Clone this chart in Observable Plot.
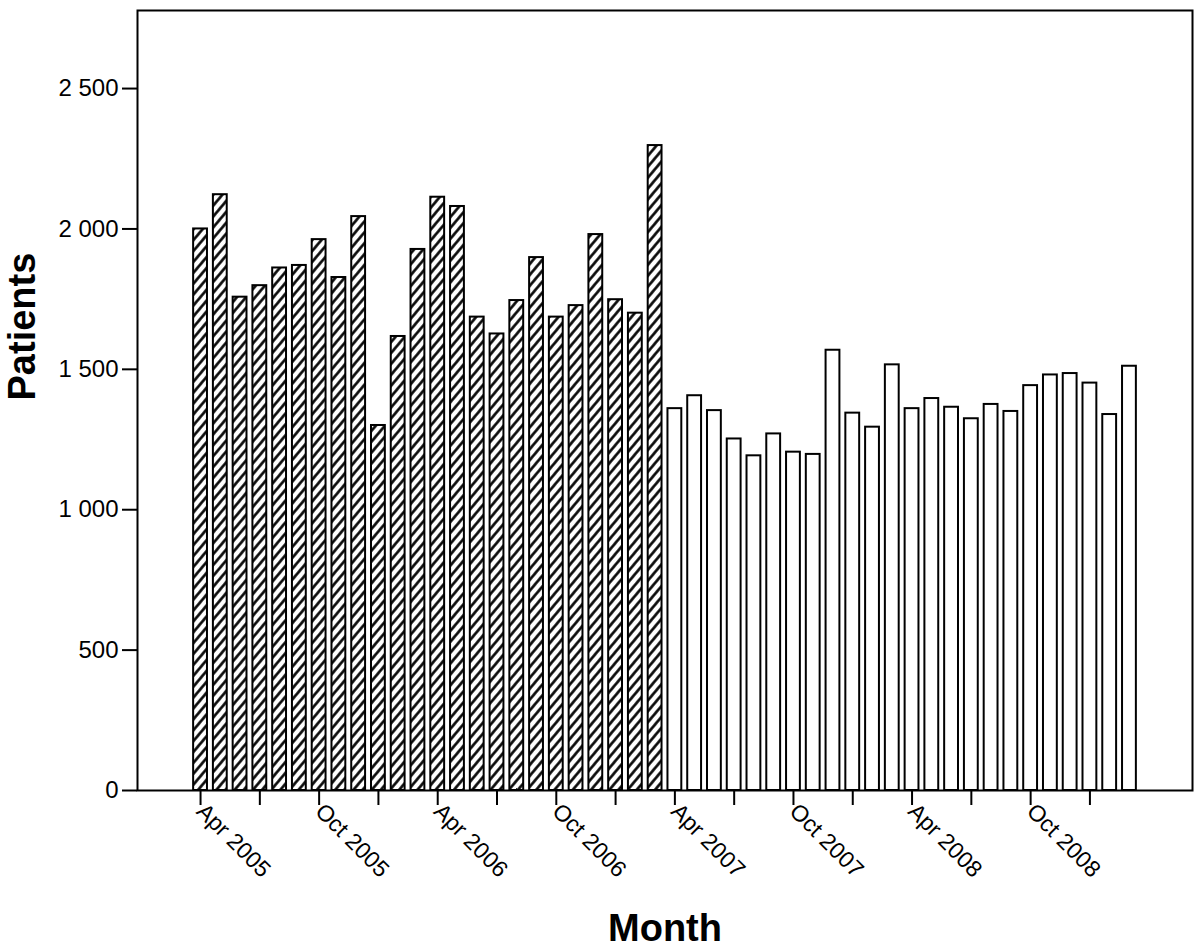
<!DOCTYPE html>
<html>
<head>
<meta charset="utf-8">
<script src="https://cdn.jsdelivr.net/npm/d3@7"></script>
<script src="https://cdn.jsdelivr.net/npm/@observablehq/plot@0.6"></script>
<style>
  body { margin: 0; background: white; }
  #chart svg { display: block; }
</style>
</head>
<body>
<div id="chart"></div>
<script>
// Monthly categories (Apr 2005 – Mar 2009)
const months = [
  "Apr 2005","May 2005","Jun 2005","Jul 2005","Aug 2005","Sep 2005","Oct 2005","Nov 2005","Dec 2005",
  "Jan 2006","Feb 2006","Mar 2006","Apr 2006","May 2006","Jun 2006","Jul 2006","Aug 2006","Sep 2006",
  "Oct 2006","Nov 2006","Dec 2006","Jan 2007","Feb 2007","Mar 2007","Apr 2007","May 2007","Jun 2007",
  "Jul 2007","Aug 2007","Sep 2007","Oct 2007","Nov 2007","Dec 2007","Jan 2008","Feb 2008","Mar 2008",
  "Apr 2008","May 2008","Jun 2008","Jul 2008","Aug 2008","Sep 2008","Oct 2008","Nov 2008","Dec 2008",
  "Jan 2009","Feb 2009","Mar 2009"
];

// Patients per month
const patients = [
  2000, 2122, 1757, 1798, 1861, 1870, 1962, 1827, 2044, 1300, 1617, 1927,
  2113, 2080, 1686, 1626, 1745, 1898, 1686, 1727, 1980, 1748, 1700, 2297,
  1360, 1406, 1353, 1252, 1192, 1270, 1205, 1197, 1568, 1344, 1294, 1516,
  1360, 1396, 1365, 1324, 1375, 1350, 1442, 1480, 1485, 1451, 1339, 1511
];

// Period of each month (hatched = before Apr 2007, plain = from Apr 2007)
const periods = [
  "before","before","before","before","before","before","before","before","before","before","before","before",
  "before","before","before","before","before","before","before","before","before","before","before","before",
  "after","after","after","after","after","after","after","after","after","after","after","after",
  "after","after","after","after","after","after","after","after","after","after","after","after"
];

// Axis ticks
const xTickMonths = [
  "Apr 2005","Jul 2005","Oct 2005","Jan 2006","Apr 2006","Jul 2006","Oct 2006","Jan 2007",
  "Apr 2007","Jul 2007","Oct 2007","Jan 2008","Apr 2008","Jul 2008","Oct 2008","Jan 2009"
];
const xTickLabels = ["Apr 2005","Oct 2005","Apr 2006","Oct 2006","Apr 2007","Oct 2007","Apr 2008","Oct 2008"];
const yTicks = [0, 500, 1000, 1500, 2000, 2500];

const data = months.map((m, i) => ({month: m, index: i, patients: patients[i], period: periods[i]}));
const xTickIdx = xTickMonths.map(m => months.indexOf(m));

const fmt = d3.formatLocale({decimal: ".", thousands: " ", grouping: [3], currency: ["", ""]}).format(",");
const half = 0.35;

const chart = Plot.plot({
  width: 1200,
  height: 950,
  marginLeft: 137,
  marginRight: 8,
  marginTop: 10,
  marginBottom: 160,
  style: {fontFamily: "'Liberation Sans', Arial, sans-serif", color: "black", background: "white"},
  x: {type: "linear", domain: [-3.19, 50.19]},
  y: {domain: [0, 2778]},
  marks: [
    Plot.rectY(data.filter(d => d.period === "before"), {
      x1: d => d.index - half, x2: d => d.index + half, y: "patients",
      fill: "url(#hatch)", stroke: "black", strokeWidth: 2
    }),
    Plot.rectY(data.filter(d => d.period === "after"), {
      x1: d => d.index - half, x2: d => d.index + half, y: "patients",
      fill: "white", stroke: "black", strokeWidth: 2
    }),
    Plot.axisY({
      ticks: yTicks, tickFormat: fmt, tickSize: 15, tickPadding: 4,
      fontSize: 24, strokeWidth: 2, label: null
    }),
    Plot.axisX({
      ticks: xTickIdx,
      tickFormat: i => xTickLabels.includes(months[i]) ? months[i] : "",
      tickSize: 15, tickPadding: 2, tickRotate: 45, fontSize: 23, strokeWidth: 2, label: null
    }),
    Plot.frame({stroke: "black", strokeWidth: 2}),
    Plot.text(["Patients"], {
      frameAnchor: "left", dx: -115, rotate: -90,
      fontSize: 38, fontWeight: "bold"
    }),
    Plot.text(["Month"], {
      frameAnchor: "bottom", dy: 150,
      fontSize: 38, fontWeight: "bold"
    })
  ]
});

const defs = d3.select(chart).insert("defs", ":first-child");
const pat = defs.append("pattern")
  .attr("id", "hatch")
  .attr("patternUnits", "userSpaceOnUse")
  .attr("width", 7)
  .attr("height", 7)
  .attr("patternTransform", "rotate(40)");
pat.append("rect").attr("width", 7).attr("height", 7).attr("fill", "white");
pat.append("line").attr("x1", 1.5).attr("y1", 0).attr("x2", 1.5).attr("y2", 7)
  .attr("stroke", "black").attr("stroke-width", 2.6);

document.getElementById("chart").append(chart);
</script>
</body>
</html>
